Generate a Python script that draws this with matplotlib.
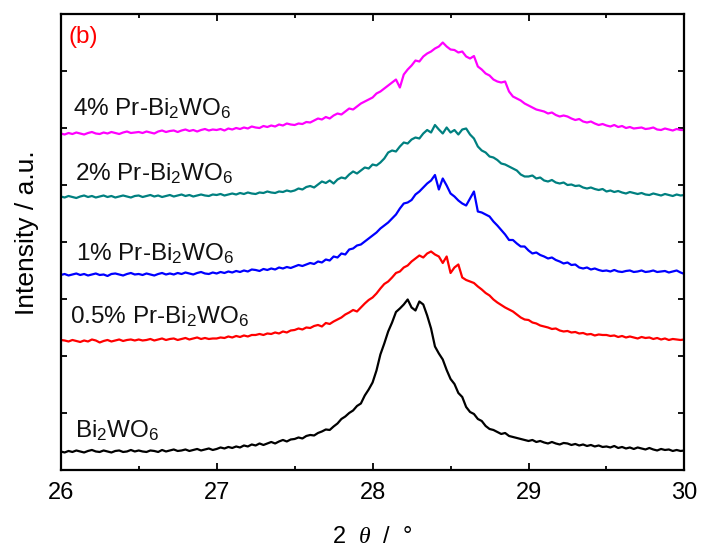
import numpy as np
import matplotlib
matplotlib.use("Agg")
import matplotlib.pyplot as plt
from matplotlib.ticker import MultipleLocator, FixedLocator, NullFormatter

plt.rcParams['font.family'] = ['Liberation Sans', 'DejaVu Sans']
plt.rcParams['mathtext.fontset'] = 'custom'
plt.rcParams['mathtext.rm'] = 'Liberation Sans'
plt.rcParams['mathtext.it'] = 'Liberation Serif:italic'
plt.rcParams['mathtext.default'] = 'rm'

# 2theta grid: 26.000 ... 30.000 in 0.025 deg steps (161 points)
two_theta = np.round(26.0 + 0.025 * np.arange(161), 3)

# Intensities (a.u., stacked as displayed)
bi2wo6 = [
    19, 18, 19.5, 18.5, 20, 19, 18, 19.5, 20.5, 19, 18.5, 20, 19, 18, 19.5, 20, 18.5, 19, 20.5, 19,
    20, 19, 18.5, 20, 19.5, 18.5, 20.5, 19, 20, 21, 19.5, 20, 21, 19.5, 20.5, 21.5, 20, 21, 22, 20.5,
    21.5, 23, 22, 23.5, 22.5, 24, 23, 25, 24, 26, 25, 27, 25.5, 27, 28.5, 27, 29, 30.5, 29, 31,
    31.5, 33, 32, 34.5, 35.5, 35, 37.5, 39, 41, 40.5, 44, 47, 51.5, 54, 57.5, 60, 64.5, 67, 75, 81,
    88, 100, 116, 127, 139, 148, 158.5, 162, 166, 171, 163, 160, 169, 166, 155, 142, 124, 117, 111, 100.5,
    91.5, 86.5, 77.5, 73.5, 63.5, 58.5, 56.5, 51.5, 49.5, 44.5, 41.5, 40.5, 38.5, 36.5, 37.5, 34.5, 33.5, 32.5, 31.5, 30.5,
    29.5, 30.5, 28.5, 29.5, 28, 27, 28.5, 27, 26, 27.5, 27, 25.5, 26.5, 25, 26, 24.5, 25.5, 24, 25, 23.5,
    24, 23, 24.5, 22.5, 23.5, 22, 23, 21.5, 23, 22, 21, 22.5, 21, 20, 21.5, 20.5, 21, 19.5, 20.5, 19.5,
    20]

pr_05 = [
    130.5, 130, 129, 130.5, 129.5, 128.5, 130, 129, 131, 130, 128, 129.5, 130.5, 129, 130, 131, 129.5, 130.5, 131, 130,
    131, 130, 130.5, 131.5, 130, 131, 132, 130.5, 131.5, 132, 130.5, 131.5, 132.5, 131, 132, 133, 131.5, 132.5, 131.5, 132,
    132, 133, 132.5, 134, 133, 134.5, 133.5, 135, 134, 135.5, 135.5, 136.5, 135.5, 137, 136.5, 138, 137, 139, 138, 140,
    140.5, 142, 141, 143, 142.5, 144.5, 145.5, 144, 147.5, 146.5, 149, 151, 153, 156, 158, 160.5, 159, 163, 167, 170.5,
    173, 177, 182, 186.5, 189, 193, 197.5, 199, 203, 205, 209, 212, 215, 213, 217, 219, 216, 214, 207.5, 214,
    197.5, 203, 206, 193, 190.5, 189, 187.5, 184, 181, 177.5, 175, 171, 168, 165.5, 163, 161, 159, 156, 153, 151,
    150.5, 148, 147, 145, 144, 143, 141.5, 142, 140, 139, 139.5, 138, 138.5, 137, 137.5, 136, 136.5, 135, 136, 135.5,
    135.5, 134.5, 135, 133.5, 134.5, 133, 134, 133, 132, 133.5, 132.5, 133, 131.5, 132.5, 131, 132, 130.5, 131.5, 131, 130.5,
    131]

pr_1 = [
    195.5, 196.5, 195, 196, 197, 195.5, 196.5, 195, 196, 197, 195.5, 196, 194.5, 196.5, 197, 196, 195, 196.5, 197.5, 196,
    196.5, 195.5, 197, 196, 195, 196.5, 197.5, 196, 197, 196, 197.5, 196.5, 198, 197, 196, 197.5, 198.5, 197, 196.5, 198,
    197, 198.5, 197.5, 199, 198, 199.5, 198.5, 200, 199, 201, 200.5, 199.5, 201.5, 200.5, 202, 201, 203, 202, 203.5, 202.5,
    204, 205.5, 204.5, 206, 207.5, 206.5, 209, 208, 211, 210, 214, 213, 217, 216, 221, 222, 225, 226, 229, 232,
    235, 238, 242, 245, 248, 252, 256, 262, 267, 268, 270.5, 276, 279, 283, 287, 290, 295.5, 281, 292, 285,
    277, 274, 270, 267, 265, 272, 279, 259, 258, 256, 254, 249, 245, 240.5, 236, 230.5, 230.5, 227, 224, 224,
    220, 217, 218, 215.5, 214, 212, 213, 210.5, 209, 207, 208, 205.5, 206, 203, 202, 203, 201, 202, 200.5, 199.5,
    200, 199, 200.5, 199, 198.5, 199.5, 200, 198.5, 199, 200, 198.5, 199, 200, 198.5, 199, 199.5, 198, 199, 200, 198,
    196.5]

pr_2 = [
    274, 273, 274.5, 273.5, 272.5, 274, 275, 273.5, 274.5, 273, 274, 275, 273.5, 274.5, 273, 274, 275, 274, 273, 274.5,
    275, 273.5, 274.5, 275.5, 274, 275, 273.5, 274.5, 275.5, 274, 275, 276, 274.5, 275.5, 274, 275, 276, 275, 274.5, 276,
    275.5, 276.5, 275, 276, 277, 276, 277.5, 276.5, 278, 277, 276.5, 278, 277.5, 279, 278, 277.5, 279, 278.5, 280, 279,
    280, 282, 281, 283.5, 284.5, 283, 286, 289, 287.5, 290, 287, 291, 293, 292, 296, 299, 297, 300, 303, 302,
    306, 305, 308, 312, 318, 320, 319, 324, 328, 327, 331, 333, 332, 337, 340.5, 338, 345.5, 341, 337, 343,
    338, 340.5, 336, 341, 342, 336, 332, 324, 320, 318, 314, 313, 310.5, 307, 306, 304, 302, 300, 296, 294,
    294, 295, 292, 293, 290, 289, 290.5, 288, 287, 288, 285.5, 286, 284.5, 285, 283, 282, 283, 281.5, 280.5, 281.5,
    279, 280, 278.5, 279.5, 278, 277, 278.5, 277.5, 276.5, 277.5, 276, 275.5, 277, 276, 275, 276.5, 275.5, 274.5, 276, 275,
    275.5]

pr_4 = [
    337, 336, 337.5, 336.5, 338, 337, 336, 337.5, 338.5, 337, 336.5, 338, 337, 338.5, 337.5, 336.5, 338, 339, 337.5, 338,
    338.5, 337.5, 339, 338, 337, 339, 340, 338.5, 339.5, 340, 338.5, 340, 341, 339.5, 340.5, 339, 340.5, 341.5, 340, 341,
    340.5, 341.5, 340, 342, 341, 342.5, 341.5, 343, 342, 344, 343, 342.5, 344.5, 343.5, 345, 344, 346, 345, 347, 346,
    345.5, 347, 346.5, 348.5, 348, 350, 352, 351, 353.5, 352, 355, 357, 356, 359, 362, 361, 364, 367, 369, 371,
    373, 377, 379, 382, 385, 388, 391, 383, 396, 401, 405, 410, 409, 414, 417, 419, 422, 424, 428, 424,
    421, 420.5, 418, 419, 414, 412, 414.5, 404, 401, 397, 395, 391, 389, 388, 389, 379, 374, 372, 370, 367,
    365, 363, 361, 360, 359, 357, 358, 355.5, 354, 355, 354, 352, 350.5, 351.5, 349, 348, 349, 347, 345.5, 346.5,
    345, 344, 345.5, 343.5, 344.5, 342.5, 343.5, 342, 342.5, 343, 341.5, 342, 343, 341, 340.5, 342, 341, 340, 341.5, 340.5,
    340.5]

series = [bi2wo6, pr_05, pr_1, pr_2, pr_4]
colors = ['#000000', '#FF0000', '#0000FF', '#008080', '#FF00FF']
labels = [r'Bi$_2$WO$_6$', r'0.5% Pr-Bi$_2$WO$_6$', r'1% Pr-Bi$_2$WO$_6$',
          r'2% Pr-Bi$_2$WO$_6$', r'4% Pr-Bi$_2$WO$_6$']
label_x = [26.092, 26.06, 26.10, 26.092, 26.079]
label_y = [33.5, 147.5, 210.5, 290.5, 355.5]

fig = plt.figure(figsize=(7.02, 5.47), dpi=100)
ax = fig.add_axes([0.0865, 0.1399, 0.975 - 0.0865, 0.9753 - 0.1399])

for ys, c in zip(series, colors):
    ax.plot(two_theta, ys, color=c, lw=1.6)

for lab, lx, ly in zip(labels, label_x, label_y):
    ax.text(lx, ly, lab, fontsize=17.5, va='baseline', ha='left', color='#111111')

ax.text(26.047, 427.5, '(b)', fontsize=17.5, va='baseline', ha='left', color='#FF0000')

ax.set_xlim(26, 30)
ax.set_ylim(0, 457)
ax.xaxis.set_major_locator(MultipleLocator(1))
ax.xaxis.set_minor_locator(MultipleLocator(0.5))
ax.yaxis.set_major_locator(FixedLocator([457 / 8 * k for k in range(1, 8)]))
ax.yaxis.set_major_formatter(NullFormatter())
ax.tick_params(which='both', direction='in', top=True, right=True, width=1.3)
ax.tick_params(which='major', length=5)
ax.tick_params(which='minor', length=3)
ax.tick_params(axis='y', which='major', length=4)
ax.tick_params(axis='x', labelsize=17, pad=8)
for s in ax.spines.values():
    s.set_linewidth(1.6)

ax.set_xlabel(r'2  $\mathit{\theta}$  /  °', fontsize=17, labelpad=16)
ax.set_ylabel('Intensity / a.u.', fontsize=19)
ax.yaxis.set_label_coords(-0.035, 0.52)

fig.savefig('out.png', dpi=100)
